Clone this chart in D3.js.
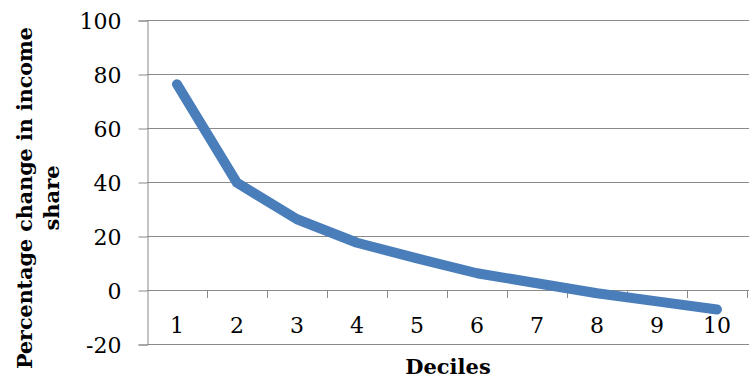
<!DOCTYPE html>
<html>
<head>
<meta charset="utf-8">
<script src="https://cdn.jsdelivr.net/npm/d3@7/dist/d3.min.js"></script>
<style>
  body { margin: 0; background: #fff; }
  svg text { font-family: "DejaVu Serif", "Liberation Serif", serif; fill: #000; }
</style>
</head>
<body>
<div id="chart"></div>
<script>
var deciles = ["1", "2", "3", "4", "5", "6", "7", "8", "9", "10"];
var change = [76.2, 39.7, 26.2, 17.5, 11.7, 6.2, 2.5, -1.2, -4.2, -7.2];
var yTicks = [-20, 0, 20, 40, 60, 80, 100];

var width = 749, height = 381;
var margin = {left: 147, top: 20, right: 2, bottom: 37};

var svg = d3.select("#chart").append("svg")
    .attr("width", width)
    .attr("height", height);

var x = d3.scaleBand()
    .domain(deciles)
    .range([margin.left, width - margin.right]);

var y = d3.scaleLinear()
    .domain([-20, 100])
    .range([height - margin.bottom, margin.top]);

// gridlines
svg.append("g")
    .selectAll("line")
    .data(yTicks)
    .enter().append("line")
    .attr("x1", margin.left)
    .attr("x2", width)
    .attr("y1", function(d) { return Math.round(y(d)) + 0.5; })
    .attr("y2", function(d) { return Math.round(y(d)) + 0.5; })
    .attr("stroke", "#8a8a8a")
    .attr("stroke-width", 1);

// y axis
var yAxis = svg.append("g")
    .attr("transform", "translate(" + (margin.left + 0.5) + ",0.5)")
    .call(d3.axisLeft(y).tickValues(yTicks).tickSize(9).tickPadding(17)
        .tickFormat(function(d) { return String(d); }));
yAxis.select(".domain").attr("stroke", "#8a8a8a");
yAxis.selectAll(".tick line").attr("stroke", "#8a8a8a");
yAxis.selectAll(".tick text")
    .style("font-size", "22px")
    .attr("dy", "0.36em");

// x axis at zero
var xAxis = svg.append("g")
    .attr("transform", "translate(0," + (Math.round(y(0)) + 0.5) + ")")
    .call(d3.axisBottom(x).tickSize(0).tickPadding(27));
xAxis.select(".domain").remove();
xAxis.selectAll(".tick text").style("font-size", "22px");

// tick marks on band boundaries
svg.append("g")
    .selectAll("line")
    .data(deciles)
    .enter().append("line")
    .attr("x1", function(d) { return Math.round(x(d) + x.bandwidth()) + 0.5; })
    .attr("x2", function(d) { return Math.round(x(d) + x.bandwidth()) + 0.5; })
    .attr("y1", Math.round(y(0)))
    .attr("y2", Math.round(y(0)) + 8)
    .attr("stroke", "#8a8a8a");

// line
var line = d3.line()
    .x(function(d, i) { return x(deciles[i]) + x.bandwidth() / 2; })
    .y(function(d) { return y(d); });

svg.append("path")
    .datum(change)
    .attr("d", line)
    .attr("fill", "none")
    .attr("stroke", "#4a7ebb")
    .attr("stroke-width", 10)
    .attr("stroke-linecap", "round")
    .attr("stroke-linejoin", "round");

// axis titles
svg.append("text")
    .attr("x", (margin.left + width) / 2)
    .attr("y", 374)
    .attr("text-anchor", "middle")
    .style("font-size", "21px")
    .style("font-weight", "bold")
    .text("Deciles");

var yTitle = svg.append("text")
    .attr("transform", "translate(0,198) rotate(-90)")
    .attr("text-anchor", "middle")
    .style("font-size", "21px")
    .style("font-weight", "bold");
yTitle.append("tspan").attr("x", 0).attr("y", 32)
    .attr("textLength", 342).attr("lengthAdjust", "spacingAndGlyphs")
    .text("Percentage change in income");
yTitle.append("tspan").attr("x", 0).attr("y", 59).text("share");
</script>
</body>
</html>
